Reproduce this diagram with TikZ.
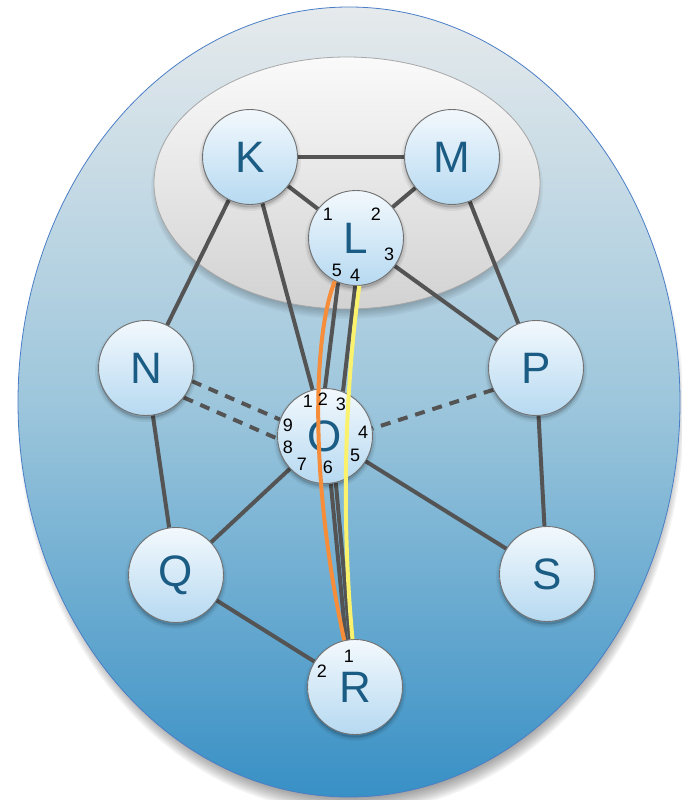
\documentclass[tikz,border=0pt]{standalone}
\usepackage{fontspec}
\setmainfont{Liberation Sans}

\definecolor{outertop}{HTML}{E6EAEC}
\definecolor{outermid}{HTML}{9DC6DC}
\definecolor{outerbot}{HTML}{3890C5}
\definecolor{outerline}{HTML}{4A7EC6}
\definecolor{innertop}{HTML}{FAFAFA}
\definecolor{innerbot}{HTML}{D2D2D2}
\definecolor{innerline}{HTML}{A8A8A8}
\definecolor{nodetop}{HTML}{F3F9FD}
\definecolor{nodebot}{HTML}{B6D9F1}
\definecolor{nodeline}{HTML}{727272}
\definecolor{lettercol}{HTML}{1B5C84}
\definecolor{edgegray}{HTML}{545454}
\definecolor{orangeline}{HTML}{F58D3B}
\definecolor{yellowline}{HTML}{FAF26C}

\pgfdeclarelayer{ground}
\pgfdeclarelayer{links}
\pgfsetlayers{ground,links,main}

\begin{document}
\begin{tikzpicture}[x=1pt,y=-1pt,
  vertex/.style={circle, draw=nodeline, line width=0.9pt, minimum size=95pt,
    inner sep=0pt, top color=nodetop, bottom color=nodebot,
    font=\fontsize{44}{44}\selectfont, text=lettercol,
    preaction={draw=black, line width=7pt, opacity=0.05, transform canvas={yshift=-3pt}},
    preaction={draw=black, line width=3.5pt, opacity=0.07, transform canvas={yshift=-3pt}},
    preaction={fill=black, opacity=0.14, transform canvas={yshift=-3pt}}},
  port/.style={font=\fontsize{18}{18}\selectfont, text=black, inner sep=0pt},
  link/.style={draw=edgegray, line width=4pt},
  dashlink/.style={link, dash pattern=on 10pt off 8pt},
  route/.style={line width=4pt},
]
\useasboundingbox (0,0) rectangle (681,800);

% outer region with a soft shadow, then the inner cluster
\begin{pgfonlayer}{ground}
  \foreach \k in {0,...,9}
    \fill[black, opacity=0.045]
      (351,413) ellipse [x radius={(333-1.4*\k)*1pt}, y radius={(400-1.6*\k)*1pt}];
  \path[top color=outertop, bottom color=outerbot, middle color=outermid,
        draw=outerline, line width=0.8pt]
    (349,402) ellipse [x radius=331pt, y radius=395pt];
  \foreach \k in {0,...,7}
    \fill[black, opacity=0.035]
      (347,188) ellipse [x radius={(196-1.5*\k)*1pt}, y radius={(131-1.5*\k)*1pt}];
  \path[top color=innertop, bottom color=innerbot, draw=innerline, line width=0.8pt]
    (347,183) ellipse [x radius=193pt, y radius=126pt];
\end{pgfonlayer}

% vertices
\node[vertex] (K) at (250,157) {K};
\node[vertex] (M) at (452,157) {M};
\node[vertex] (L) at (356,238) {L};
\node[vertex] (N) at (146,368) {N};
\node[vertex] (P) at (536,368) {P};
\node[vertex] (O) at (325,436) {O};
\node[vertex] (Q) at (176,575) {Q};
\node[vertex] (S) at (547,574) {S};
\node[vertex] (R) at (355,687) {R};

% plain links
\begin{pgfonlayer}{links}
  \draw[link] (K) -- (M);
  \draw[link] (K) -- (L);
  \draw[link] (M) -- (L);
  \draw[link] (K) -- (N);
  \draw[link] (K) -- (O);
  \draw[link] (M) -- (P);
  \draw[link] (L) -- (P);
  \draw[link] (N) -- (Q);
  \draw[link] (P) -- (S);
  \draw[link] (O) -- (Q);
  \draw[link] (O) -- (S);
  \draw[link] (Q) -- (R);
  \draw[link] (L.-112) -- (O.90);
  \draw[link] (L.-91) -- (O.68);
  \draw[link] (O.-83) -- (R.101);
  \draw[link] (O.-77) -- (R.96);
  \draw[dashlink] (N.-16) -- (O.160);
  \draw[dashlink] (N.-38) -- (O.183);
  \draw[dashlink] (P.207) -- (O.9);
\end{pgfonlayer}

% routed paths across O
\draw[route, orangeline] (L.-116) .. controls +(-20,46) and +(-37,-170) .. (R.103);
\draw[route, yellowline] (L.-86) .. controls +(-10,70) and +(-14,-150) .. (R.93);

% port numbers on L
\node[port] (l1) at (328,214) {1};
\node[port] (l2) at (376,214) {2};
\node[port] (l3) at (389,254) {3};
\node[port] (l4) at (355,275) {4};
\node[port] (l5) at (337,270) {5};
% port numbers on O
\node[port] (o1) at (308,401) {1};
\node[port] (o2) at (323,399) {2};
\node[port] (o3) at (341,404) {3};
\node[port] (o4) at (363,432) {4};
\node[port] (o5) at (355,455) {5};
\node[port] (o6) at (328,467) {6};
\node[port] (o7) at (302,464) {7};
\node[port] (o8) at (288,447) {8};
\node[port] (o9) at (288,425) {9};
% port numbers on R
\node[port] (r1) at (349,656) {1};
\node[port] (r2) at (322,671) {2};
\end{tikzpicture}
\end{document}
